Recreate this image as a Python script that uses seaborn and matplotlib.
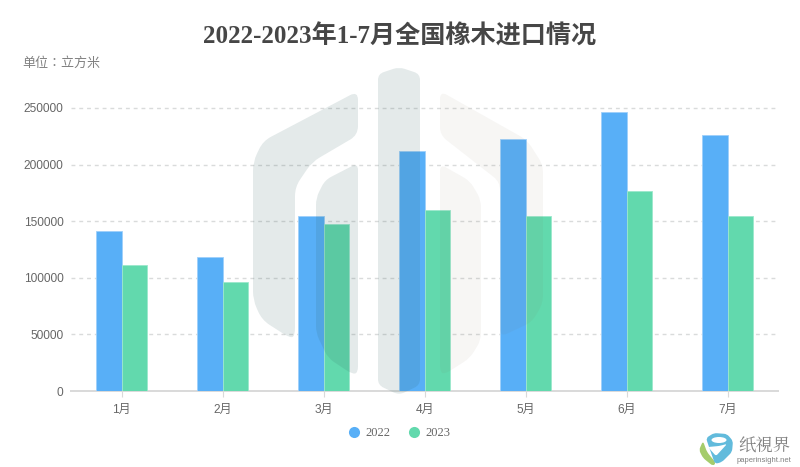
import matplotlib
matplotlib.use("Agg")
import matplotlib.pyplot as plt
from matplotlib.lines import Line2D
from matplotlib.patches import Ellipse, PathPatch
from matplotlib.path import Path
import numpy as np
import pandas as pd
import seaborn as sns

months = ["1月", "2月", "3月", "4月", "5月", "6月", "7月"]
values_2022 = [141000, 118500, 155000, 212000, 222500, 246500, 226000]
values_2023 = [111500, 96000, 147500, 160000, 154500, 176500, 154500]
series_names = ["2022", "2023"]
palette = {"2022": "#58AFF7", "2023": "#62D9AD"}

SANS = ["Liberation Sans", "Noto Sans CJK SC"]
SANS_TC = ["Liberation Sans", "Noto Sans CJK TC"]
TITLE_FONT = ["Liberation Serif", "Noto Sans CJK SC"]

sns.set_theme(style="white")
plt.rcParams["font.family"] = SANS

W, H = 800, 467
df = pd.DataFrame({
    "month": months * 2,
    "series": ["2022"] * 7 + ["2023"] * 7,
    "value": values_2022 + values_2023,
})

fig = plt.figure(figsize=(W / 100, H / 100), dpi=100, facecolor="white")
ax = fig.add_axes([71 / W, 1 - 391 / H, 707 / W, (391 - 108) / H])
sns.barplot(data=df, x="month", y="value", hue="series", palette=palette,
            width=0.505, saturation=1, errorbar=None, ax=ax, legend=False,
            edgecolor="#A9D6FA", linewidth=0.6, zorder=3)
for i, b in enumerate(ax.patches):
    b.set_edgecolor("#9FD0FA" if i < 7 else "#9BE8CC")

ax.set_xlim(-0.5, 6.5)
ax.set_ylim(0, 250000)
ax.set_yticks(range(0, 250001, 50000))
ax.set_xlabel("")
ax.set_ylabel("")
ax.grid(False)
for v in range(50000, 250001, 50000):
    ax.axhline(v, color="#D9DBDB", lw=1, dashes=(2.8, 2.8), zorder=1, clip_on=False)
for s in ("top", "right", "left"):
    ax.spines[s].set_visible(False)
ax.spines["bottom"].set_color("#D9D9D9")
ax.spines["bottom"].set_linewidth(1.4)
ax.tick_params(axis="y", length=0, pad=5.5, labelsize=8.6, labelcolor="#666666")
ax.tick_params(axis="x", length=4, width=0.8, color="#D9D9D9", pad=5,
               labelsize=8.6, labelcolor="#666666", bottom=True)


def px(x, y):
    return x / W, 1 - y / H


def round_poly(points, r):
    verts, codes = [], []
    pts = np.array(points, float)
    n = len(pts)
    for i in range(n):
        p, a, b = pts[i], pts[i - 1], pts[(i + 1) % n]
        ra = min(r, np.linalg.norm(a - p) / 2)
        rb = min(r, np.linalg.norm(b - p) / 2)
        start = p + (a - p) / np.linalg.norm(a - p) * ra
        end = p + (b - p) / np.linalg.norm(b - p) * rb
        verts += [start, p, end]
        codes += [Path.MOVETO if i == 0 else Path.LINETO, Path.CURVE3, Path.CURVE3]
    verts.append(verts[0])
    codes.append(Path.CLOSEPOLY)
    return Path([px(*v) for v in verts], codes)


def shape(points, r, color, alpha, z=5):
    fig.add_artist(PathPatch(round_poly(points, r), facecolor=color, edgecolor="none",
                             alpha=alpha, transform=fig.transFigure, zorder=z))


DARK, LIGHT = "#2F5F5F", "#7A6A50"
shape([(358, 91), (358, 135), (312, 162), (295, 187), (295, 336), (290, 338),
       (262, 320), (253, 300), (253, 162), (263, 141)], 9, DARK, 0.13)
shape([(358, 163), (358, 373), (352, 374), (328, 358), (316, 333), (316, 198), (325, 180)],
      7, DARK, 0.13)
shape([(378, 74), (399, 67), (420, 74), (420, 385), (399, 395), (378, 385)], 6, DARK, 0.13)
shape([(440, 91), (527, 140), (543, 165), (543, 303), (532, 322), (500, 337), (500, 182),
       (440, 135)], 8, LIGHT, 0.06)
shape([(440, 164), (470, 181), (481, 200), (481, 340), (470, 358), (445, 374), (440, 372)],
      7, LIGHT, 0.06)

# Logo in the lower right corner
shape([(703, 441), (699, 450), (703, 458), (713, 466), (716, 463), (707, 452)], 3, "#A5CC6B", 1, 6)
shape([(706, 438), (714, 433), (727, 434), (733, 441), (732, 452), (722, 462), (715, 464),
       (709, 447)], 3, "#62BBDC", 1, 6)
fig.add_artist(Ellipse(px(719, 440), 15 / W, 6 / H, facecolor="white", edgecolor="none",
                       transform=fig.transFigure, zorder=7))
shape([(708, 447), (719, 446), (727, 444), (716, 456)], 2, "#FFFFFF", 1, 7)
fig.text(*px(764, 447), "纸視界", family=["Noto Serif CJK SC", "Noto Sans CJK SC"],
         fontsize=12.5, color="#808080", ha="center", va="center", zorder=7)
fig.text(*px(763.5, 460), "paperinsight.net", family=SANS, fontsize=5.5, color="#808080",
         ha="center", va="center", zorder=7)

fig.text(*px(400, 36), "2022-2023年1-7月全国橡木进口情况", family=TITLE_FONT,
         fontsize=18.1, fontweight="bold", color="#464646", ha="center", va="center")
fig.text(*px(22, 63.5), "单位：立方米", family=SANS_TC, fontsize=9.4, color="#808080",
         ha="left", va="center")

handles = [Line2D([], [], ls="none", marker="o", ms=8, mfc=palette[n], mec="none",
                  label=n) for n in series_names]
fig.legend(handles=handles, loc="center", bbox_to_anchor=px(399, 433), ncol=2, frameon=False,
           prop={"family": TITLE_FONT, "size": 9}, labelcolor="#666666",
           handlelength=1, handletextpad=0.38, columnspacing=1.42, borderpad=0, borderaxespad=0)

fig.savefig("out.png", dpi=100)
